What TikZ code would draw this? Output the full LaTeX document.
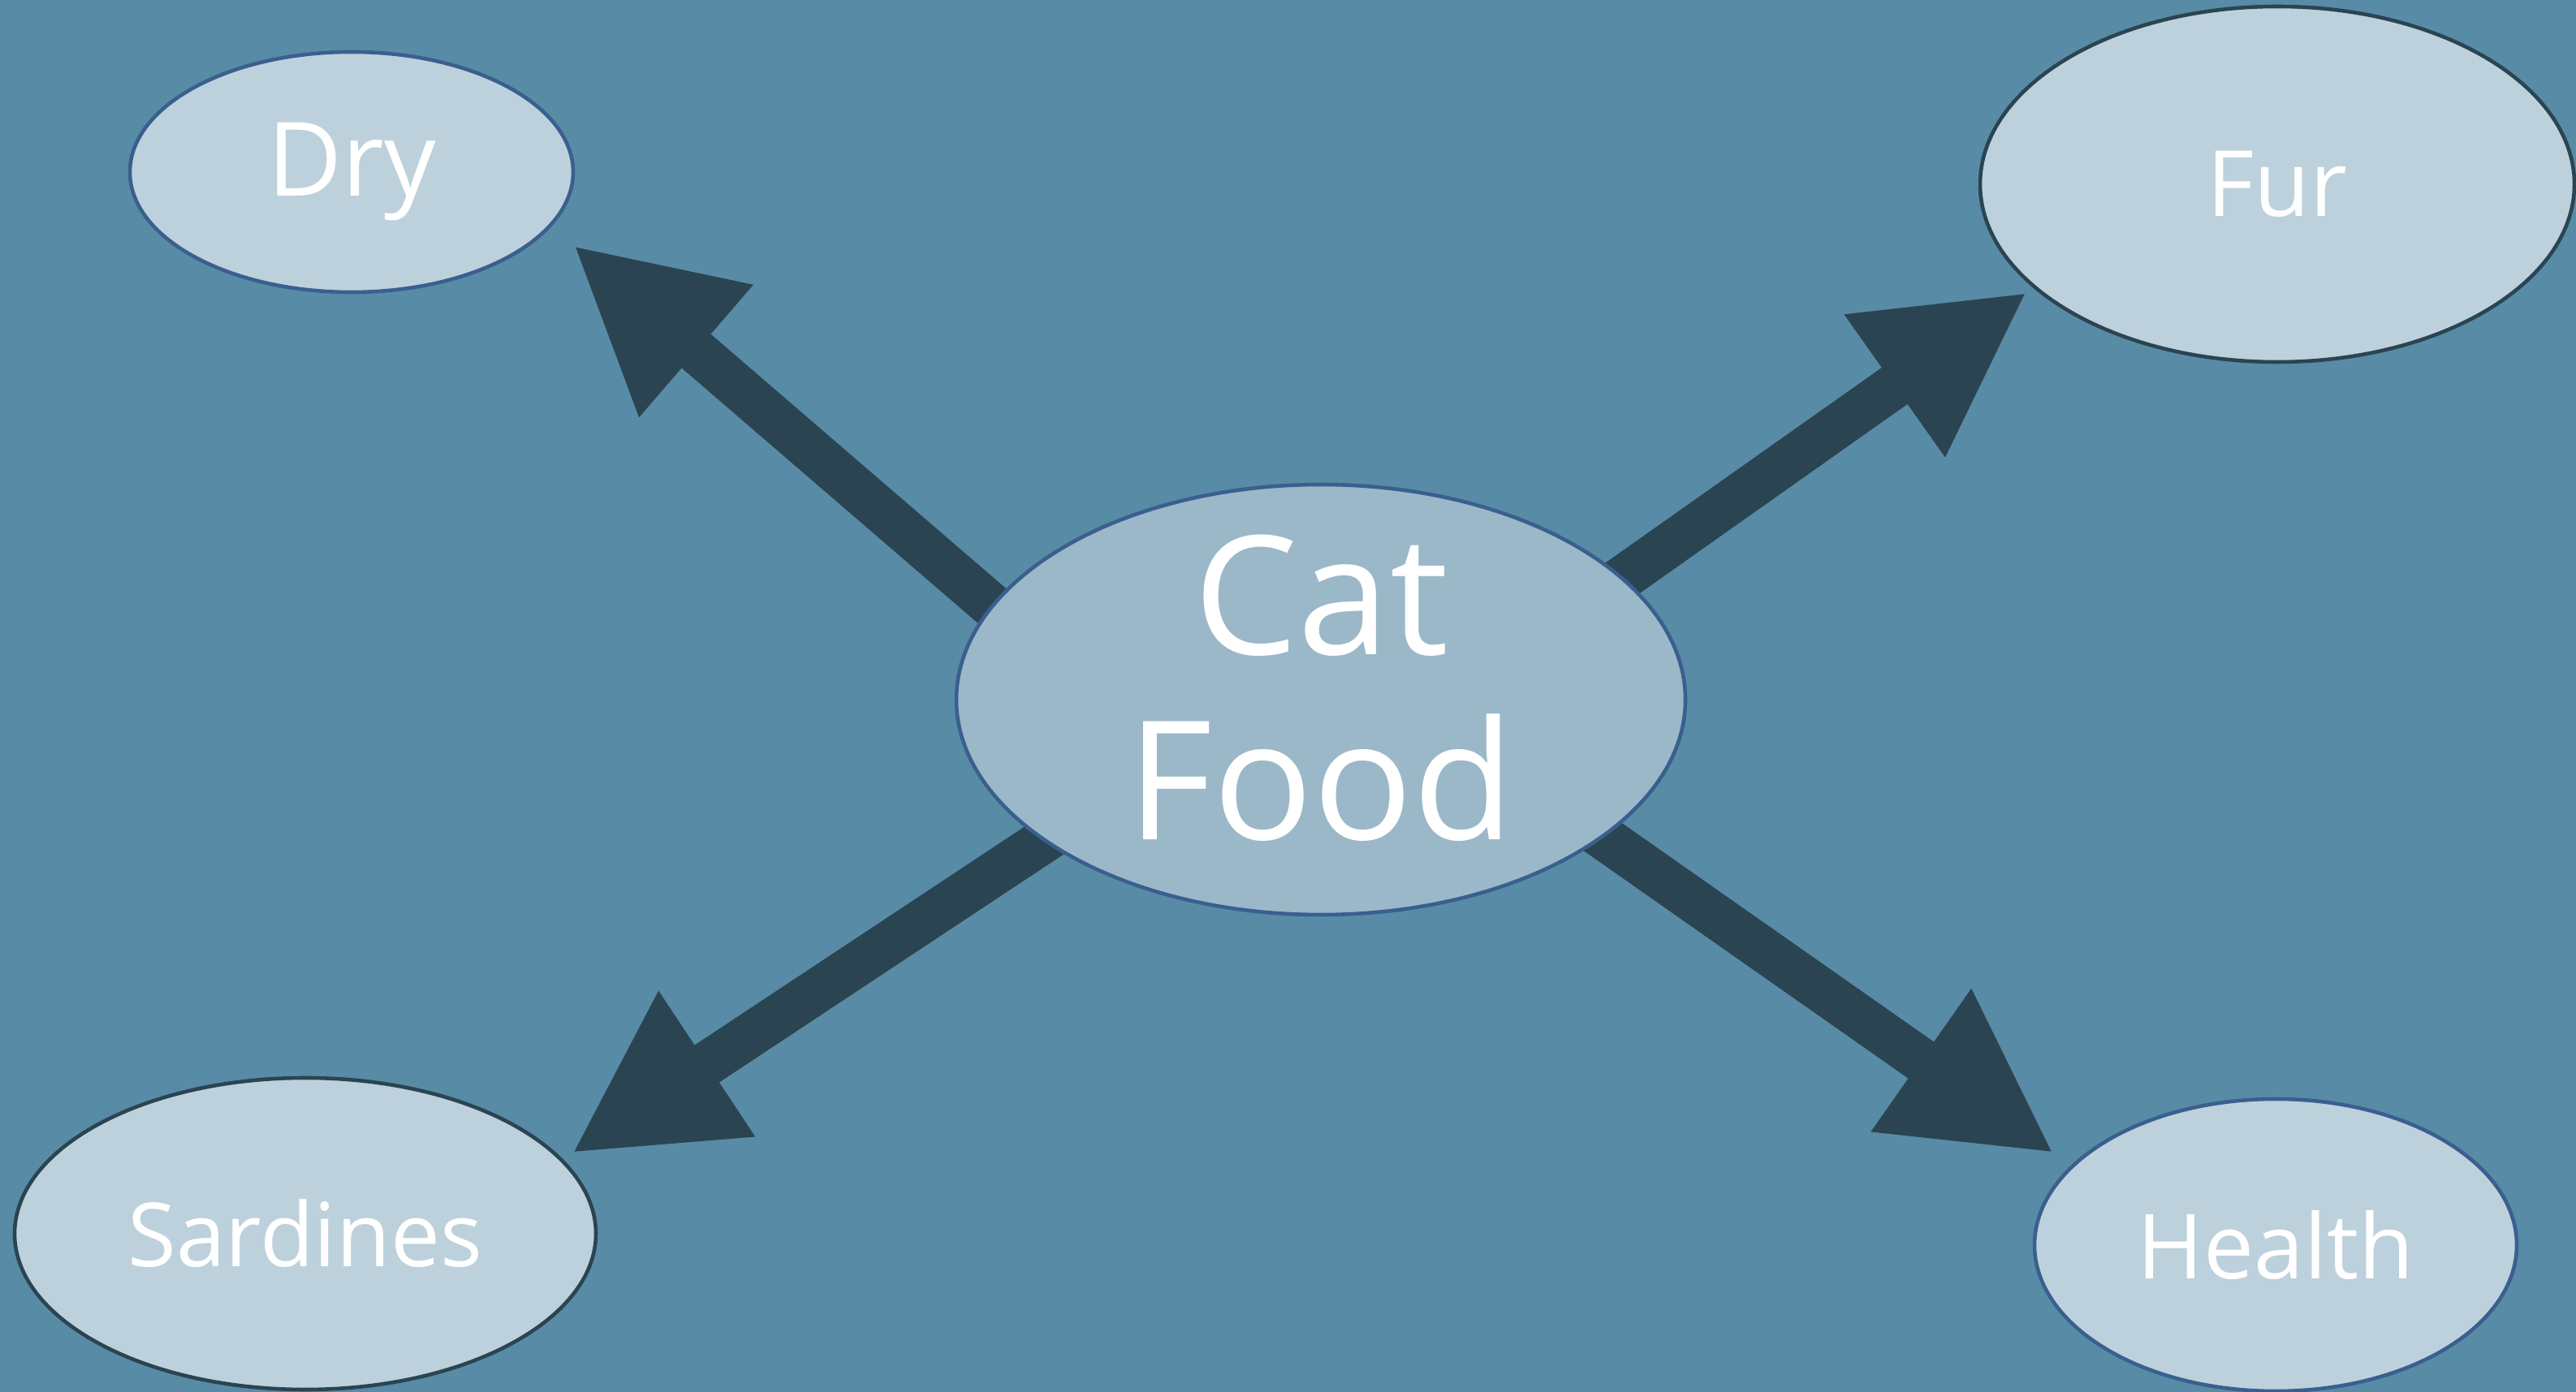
\documentclass[tikz,border=0pt]{standalone}
\usepackage{fontspec}
\setmainfont{Open Sans}
\usetikzlibrary{shapes.geometric,arrows.meta,backgrounds}
\usepackage{xcolor}
\definecolor{Sea}{RGB}{88,139,165}
\definecolor{Slate}{RGB}{43,68,82}
\definecolor{Mist}{RGB}{155,184,201}
\definecolor{Frost}{RGB}{189,209,220}
\definecolor{Rim}{RGB}{58,95,143}
\tikzset{
  cnode/.style={ellipse,draw=Rim,fill=Mist,line width=1.3pt,text=white,
                inner sep=0pt,align=center},
  lnode/.style={cnode,fill=Frost},
  dnode/.style={lnode,draw=Slate},
  bigarrow/.style={-{Triangle[length=2cm,width=2cm]},Slate,line width=0.55cm,
                   shorten <=-0.5cm},
}

\begin{document}
\begin{tikzpicture}
    \useasboundingbox (0,0) rectangle (31.73,17.15);
    \node[cnode,minimum width=8.98cm,minimum height=5.30cm,
          text height=3.55cm,text depth=0.1cm,
          font=\fontsize{58}{65}\selectfont] (cat) at (16.27,8.53) {Cat\\Food};
    \node[lnode,minimum width=5.46cm,minimum height=2.96cm,
          font=\fontsize{36}{40}\selectfont] (dry) at (4.33,15.03) {Dry};
    \node[dnode,minimum width=7.32cm,minimum height=4.38cm,
          font=\fontsize{32}{38}\selectfont] (fur) at (28.05,14.88) {Fur};
    \node[dnode,minimum width=7.16cm,minimum height=3.84cm,
          font=\fontsize{31}{36}\selectfont] (sardines) at (3.76,1.95) {Sardines};
    \node[lnode,minimum width=5.94cm,minimum height=3.60cm,
          font=\fontsize{31.5}{36}\selectfont] (health) at (28.03,1.81) {Health};
    % arrow tips
    \coordinate (drytip) at (7.06,14.13);
    \coordinate (furtip) at (24.97,13.55);
    \coordinate (sardtip) at (7.04,2.94);
    \coordinate (healthtip) at (25.30,2.94);
    \begin{scope}[on background layer]
      \fill[Sea] (0,0) rectangle (31.73,17.15);
      \draw[bigarrow] (cat.164) -- (drytip);
      \draw[bigarrow] (cat.22) -- (furtip);
      \draw[bigarrow] (cat.207) -- (sardtip);
      \draw[bigarrow] (cat.334) -- (healthtip);
    \end{scope}
\end{tikzpicture}
\end{document}
